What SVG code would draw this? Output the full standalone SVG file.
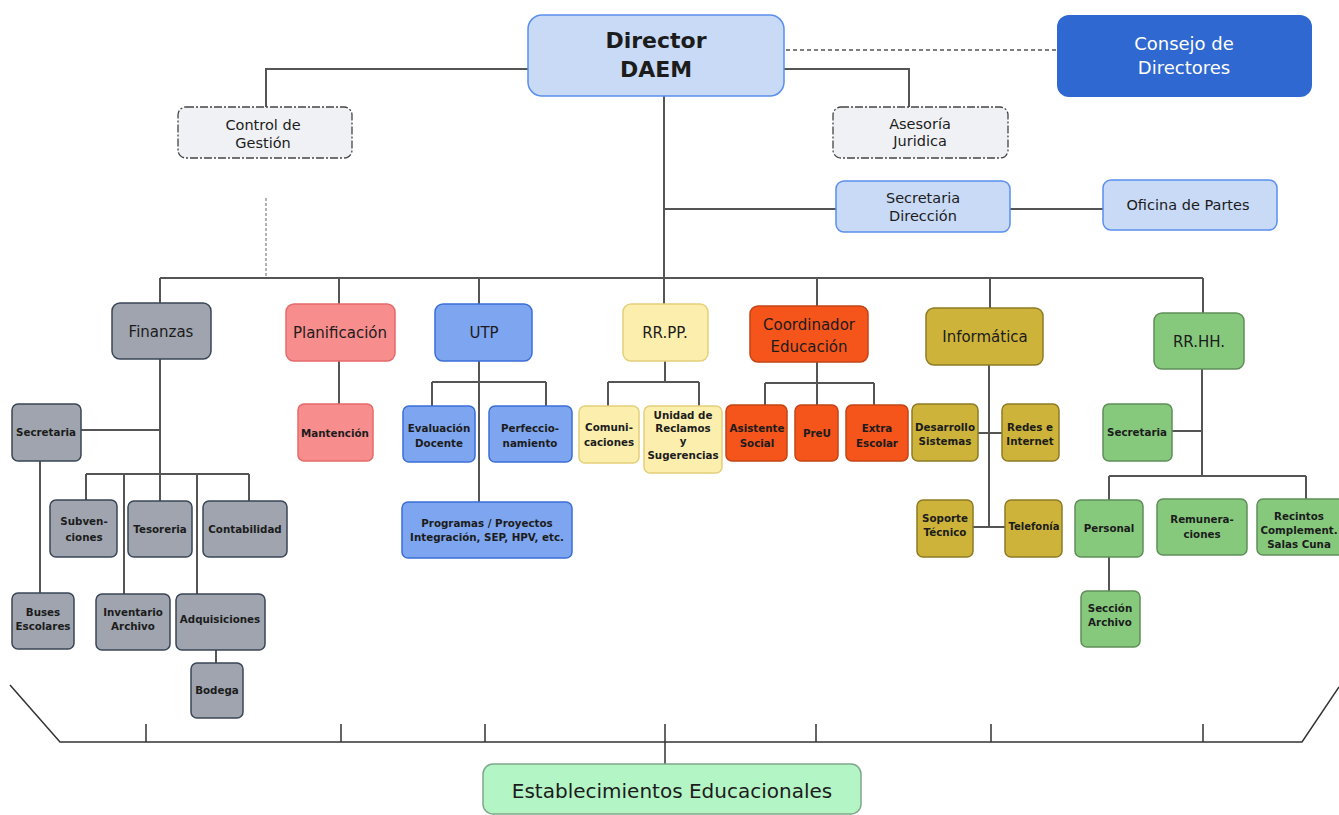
<svg xmlns="http://www.w3.org/2000/svg" width="1339" height="815" viewBox="0 0 1339 815">
<style>
text{font-family:"DejaVu Sans","Liberation Sans",sans-serif;text-anchor:middle;fill:#1c1c1c}
.s{font-size:10.3px;font-weight:bold}
.m{font-size:14.5px}
.t{font-size:15px}
.c{fill:none;stroke:#555;stroke-width:2}
.gray rect{fill:#9fa4ae;stroke:#3a4556;stroke-width:1.5}
.pink rect{fill:#f88d8d;stroke:#e46a6a;stroke-width:1.5}
.blue rect{fill:#7ea6f0;stroke:#3b6fd6;stroke-width:1.5}
.yel rect{fill:#fcefae;stroke:#e3d07a;stroke-width:1.5}
.ora rect{fill:#f5541b;stroke:#c24415;stroke-width:1.5}
.mus rect{fill:#cdb33a;stroke:#8d7c25;stroke-width:1.5}
.grn rect{fill:#86c97d;stroke:#5f8e58;stroke-width:1.5}
.lb rect{fill:#c8daf6;stroke:#5a8ef0;stroke-width:1.5}
.dd rect{fill:#f0f1f4;stroke:#444;stroke-width:1.3;stroke-dasharray:8,2,2,2}
</style>
<rect width="1339" height="815" fill="#fff"/>
<g id="connectors">
<path class="c" d="M528,69H266V107M784,69H909V107M664,96V278M664,209H836M1010,209H1103M160,278H1203M160,278V303M339,278V304M479,278V304M664,278V304M817,278V306M990,278V308M1203,278V313"/>
<path d="M786,50H1057" fill="none" stroke="#555" stroke-width="1.5" stroke-dasharray="4,3"/>
<path d="M266,198V278" fill="none" stroke="#999" stroke-width="1.5" stroke-dasharray="3,2"/>
<path class="c" stroke="#666" d="M160,359V474M81,430H160M86,474H249M86,474V500M160,474V501M249,474V501M124,474V594M197,474V594M216,650V663M40,461V593"/>
<path class="c" d="M339,361V404M479,361V502M432,382H546M432,382V406M546,382V406"/>
<path class="c" d="M665,361V382M608,382H699M608,382V406M699,382V406"/>
<path class="c" stroke="#777" d="M817,362V405M765,383H874M765,383V405M874,383V405"/>
<path class="c" d="M989,365V527M978,433H1002M973,527H1005"/>
<path class="c" d="M1202,369V476M1172,431H1202M1109,476H1306M1109,476V500M1306,476V499M1109,557V591"/>
<path d="M10,685L60,742H1302L1339,687M146,724V742M341,724V742M485,724V742M816,724V742M991,724V742M1203,724V742M665,724V764" fill="none" stroke="#333" stroke-width="1.5"/>
</g>
<g id="director" class="lb"><rect x="528" y="15" width="256" height="81" rx="14"/><text x="656" y="48" font-size="22" font-weight="bold">Director</text><text x="656" y="77" font-size="22" font-weight="bold">DAEM</text></g>
<g id="consejo"><rect x="1057" y="15" width="255" height="82" rx="12" fill="#2f68d1"/><text x="1184" y="50" font-size="18" style="fill:#fff">Consejo de</text><text x="1184" y="74" font-size="18" style="fill:#fff">Directores</text></g>
<g id="control" class="dd"><rect x="178" y="107" width="174" height="51" rx="8"/><text class="m" x="263" y="130">Control de</text><text class="m" x="263" y="148">Gestión</text></g>
<g id="asesoria" class="dd"><rect x="833" y="107" width="175" height="51" rx="8"/><text class="m" x="920" y="129">Asesoría</text><text class="m" x="920" y="146">Juridica</text></g>
<g id="secdir" class="lb"><rect x="836" y="181" width="174" height="51" rx="8"/><text class="m" x="923" y="203">Secretaria</text><text class="m" x="923" y="221">Dirección</text></g>
<g id="oficina" class="lb"><rect x="1103" y="180" width="174" height="50" rx="8"/><text class="m" x="1188" y="210">Oficina de Partes</text></g>
<g id="finanzas" class="gray"><rect x="112" y="303" width="99" height="56" rx="8"/><text class="t" x="161" y="337">Finanzas</text></g>
<g id="planificacion" class="pink"><rect x="286" y="304" width="109" height="57" rx="8"/><text class="t" x="340" y="338">Planificación</text></g>
<g id="utp" class="blue"><rect x="435" y="304" width="97" height="57" rx="8"/><text class="t" x="484" y="338">UTP</text></g>
<g id="rrpp" class="yel"><rect x="623" y="304" width="85" height="57" rx="8"/><text class="t" x="665" y="338">RR.PP.</text></g>
<g id="coordinador" class="ora"><rect x="750" y="306" width="118" height="56" rx="8"/><text class="t" x="809" y="330">Coordinador</text><text class="t" x="809" y="352">Educación</text></g>
<g id="informatica" class="mus"><rect x="926" y="308" width="117" height="57" rx="8"/><text class="t" x="985" y="342">Informática</text></g>
<g id="rrhh" class="grn"><rect x="1154" y="313" width="90" height="56" rx="8"/><text class="t" x="1199" y="347">RR.HH.</text></g>
<g id="secretaria-fin" class="gray"><rect x="12" y="404" width="69" height="57" rx="6"/><text class="s" x="46" y="436">Secretaria</text></g>
<g id="subvenciones" class="gray"><rect x="50" y="500" width="67" height="57" rx="6"/><text class="s" x="84" y="525">Subven-</text><text class="s" x="84" y="541">ciones</text></g>
<g id="tesoreria" class="gray"><rect x="128" y="501" width="64" height="56" rx="6"/><text class="s" x="160" y="533">Tesoreria</text></g>
<g id="contabilidad" class="gray"><rect x="203" y="501" width="84" height="56" rx="6"/><text class="s" x="245" y="533">Contabilidad</text></g>
<g id="buses" class="gray"><rect x="12" y="593" width="62" height="56" rx="6"/><text class="s" x="43" y="616">Buses</text><text class="s" x="43" y="630">Escolares</text></g>
<g id="inventario" class="gray"><rect x="96" y="594" width="74" height="56" rx="6"/><text class="s" x="133" y="616">Inventario</text><text class="s" x="133" y="630">Archivo</text></g>
<g id="adquisiciones" class="gray"><rect x="176" y="594" width="89" height="56" rx="6"/><text class="s" x="220" y="623">Adquisiciones</text></g>
<g id="bodega" class="gray"><rect x="191" y="663" width="52" height="55" rx="6"/><text class="s" x="217" y="694">Bodega</text></g>
<g id="mantencion" class="pink"><rect x="298" y="404" width="75" height="57" rx="6"/><text class="s" x="335" y="437">Mantención</text></g>
<g id="evaluacion" class="blue"><rect x="403" y="406" width="72" height="56" rx="6"/><text class="s" x="439" y="432">Evaluación</text><text class="s" x="439" y="447">Docente</text></g>
<g id="perfeccionamiento" class="blue"><rect x="489" y="406" width="83" height="56" rx="6"/><text class="s" x="530" y="432">Perfeccio-</text><text class="s" x="530" y="447">namiento</text></g>
<g id="programas" class="blue"><rect x="402" y="502" width="170" height="56" rx="6"/><text class="s" x="487" y="527">Programas / Proyectos</text><text class="s" x="487" y="541">Integración, SEP, HPV, etc.</text></g>
<g id="comunicaciones" class="yel"><rect x="579" y="406" width="60" height="57" rx="6"/><text class="s" x="609" y="431">Comuni-</text><text class="s" x="609" y="446">caciones</text></g>
<g id="reclamos" class="yel"><rect x="644" y="406" width="78" height="67" rx="6"/><text class="s" x="683" y="419">Unidad de</text><text class="s" x="683" y="432">Reclamos</text><text class="s" x="683" y="445">y</text><text class="s" x="683" y="459">Sugerencias</text></g>
<g id="asistente" class="ora"><rect x="726" y="405" width="61" height="56" rx="6"/><text class="s" x="757" y="432">Asistente</text><text class="s" x="757" y="447">Social</text></g>
<g id="preu" class="ora"><rect x="795" y="405" width="43" height="56" rx="6"/><text class="s" x="817" y="437">PreU</text></g>
<g id="extra" class="ora"><rect x="846" y="405" width="62" height="56" rx="6"/><text class="s" x="877" y="432">Extra</text><text class="s" x="877" y="447">Escolar</text></g>
<g id="desarrollo" class="mus"><rect x="912" y="404" width="66" height="57" rx="6"/><text class="s" x="945" y="431">Desarrollo</text><text class="s" x="945" y="445">Sistemas</text></g>
<g id="redes" class="mus"><rect x="1002" y="404" width="57" height="57" rx="6"/><text class="s" x="1030" y="431">Redes e</text><text class="s" x="1030" y="445">Internet</text></g>
<g id="soporte" class="mus"><rect x="917" y="500" width="56" height="57" rx="6"/><text class="s" x="945" y="522">Soporte</text><text class="s" x="945" y="536">Técnico</text></g>
<g id="telefonia" class="mus"><rect x="1005" y="500" width="57" height="57" rx="6"/><text class="s" x="1034" y="530" style="font-size:10px">Telefonía</text></g>
<g id="secretaria-rh" class="grn"><rect x="1103" y="404" width="69" height="57" rx="6"/><text class="s" x="1137" y="436">Secretaria</text></g>
<g id="personal" class="grn"><rect x="1075" y="500" width="68" height="57" rx="6"/><text class="s" x="1109" y="532">Personal</text></g>
<g id="remuneraciones" class="grn"><rect x="1157" y="499" width="90" height="56" rx="6"/><text class="s" x="1202" y="523">Remunera-</text><text class="s" x="1202" y="538">ciones</text></g>
<g id="recintos" class="grn"><rect x="1257" y="499" width="90" height="56" rx="6"/><text class="s" x="1299" y="520">Recintos</text><text class="s" x="1299" y="534">Complement.</text><text class="s" x="1299" y="548">Salas Cuna</text></g>
<g id="seccion" class="grn"><rect x="1081" y="591" width="59" height="56" rx="6"/><text class="s" x="1110" y="612">Sección</text><text class="s" x="1110" y="626">Archivo</text></g>
<g id="establecimientos"><rect x="483" y="764" width="378" height="50" rx="10" fill="#b4f5c5" stroke="#7fa88a" stroke-width="1.5"/><text x="672" y="798" font-size="20">Establecimientos Educacionales</text></g>
</svg>
